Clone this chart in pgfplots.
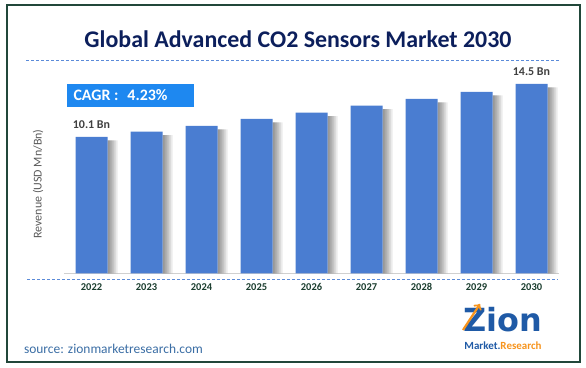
\documentclass[border=0pt]{standalone}
\usepackage{pgfplots}
\usepackage{pgfplotstable}
\pgfplotsset{compat=1.18}
\usepackage{fontspec}
\setmainfont{Carlito}
\newfontfamily\logofont{DejaVu Sans}
\definecolor{bordercol}{HTML}{21473A}
\definecolor{titlecol}{HTML}{0C1F5C}
\definecolor{barcol}{HTML}{4A7DD1}
\definecolor{cagrcol}{HTML}{1E88F0}
\definecolor{yearcol}{HTML}{1A3D2E}
\definecolor{ylabcol}{HTML}{595959}
\definecolor{valcol}{HTML}{404040}
\definecolor{srccol}{HTML}{3B6EA5}
\definecolor{dashcol}{HTML}{5B8BD9}
\definecolor{axisgray}{HTML}{D0D0D0}
\definecolor{zionblue}{HTML}{1F5AA6}
\definecolor{zionorange}{HTML}{F7941D}

\pgfplotstableread{
x v lab
0 10.10 {10.1 Bn}
1 10.49 {}
2 10.92 {}
3 11.43 {}
4 11.90 {}
5 12.42 {}
6 12.92 {}
7 13.43 {}
8 14.03 {14.5 Bn}
}\datatable

\begin{document}
\begin{tikzpicture}
\begin{scope}[x=1bp,y=1bp]
\useasboundingbox (0,0) rectangle (586,367);
\fill[white] (0,0) rectangle (586,367);
\draw[bordercol, line width=1.5bp] (7,5) rectangle (580,362);
\node[font=\bfseries\fontsize{24}{28}\selectfont, text=titlecol] at (298,327.5) {Global Advanced CO2 Sensors Market 2030};
\draw[dashcol, line width=0.8bp, dash pattern=on 3bp off 2bp] (26,307) -- (560,307);
\draw[dashcol, line width=0.8bp, dash pattern=on 3bp off 2bp] (27,88) -- (558,88);
\fill[cagrcol] (66.7,260.3) rectangle (194,283);
\node[anchor=west, text=white, font=\bfseries\fontsize{16}{18}\selectfont] at (70,271.7) {CAGR :\,\, 4.23\%};
\node[rotate=90, text=ylabcol, font=\fontsize{12}{14}\selectfont] at (38,183) {Revenue (USD Mn/Bn)};
\node[anchor=west, text=srccol, font=\fontsize{13.5}{16}\selectfont] at (20.5,18) {source: zionmarketresearch.com};
\node[anchor=base, inner sep=0pt, font=\logofont\bfseries\fontsize{32}{34}\selectfont, text=zionblue] at (503,36) {Zion};
\draw[zionorange, line width=2.2bp, ->] (463,37) -- (480,63);
\node[anchor=base, inner sep=0pt, font=\bfseries\fontsize{11}{13}\selectfont] at (503,18) {\textcolor{zionblue}{Market.}\textcolor{zionorange}{Research}};
\end{scope}
\begin{axis}[
  at={(64bp,93.7bp)}, anchor=south west,
  scale only axis, width=495bp, height=202.5bp,
  xmin=-0.5, xmax=8.5, ymin=0, ymax=15,
  axis y line=none, axis x line=bottom,
  x axis line style={-, draw=axisgray, line width=1bp},
  xtick={0,...,8}, xticklabels={2022,2023,2024,2025,2026,2027,2028,2029,2030},
  major tick length=0pt,
  xticklabel style={font=\bfseries\fontsize{10.5}{12}\selectfont, text=yearcol, yshift=-7bp, text height=7bp, text depth=0pt},
  ytick=\empty,
  ybar, bar width=32bp,
  clip=false,
]
\addplot[ybar, bar shift=17bp, bar width=2bp, draw=none, fill=black, fill opacity=0.1, forget plot]
  table[x=x, y expr=\thisrow{v}-0.25] {\datatable};
\addplot[ybar, bar shift=18bp, bar width=4bp, draw=none, fill=black, fill opacity=0.1, forget plot]
  table[x=x, y expr=\thisrow{v}-0.25] {\datatable};
\addplot[ybar, bar shift=19bp, bar width=6bp, draw=none, fill=black, fill opacity=0.1, forget plot]
  table[x=x, y expr=\thisrow{v}-0.25] {\datatable};
\addplot[ybar, bar shift=20bp, bar width=8bp, draw=none, fill=black, fill opacity=0.1, forget plot]
  table[x=x, y expr=\thisrow{v}-0.25] {\datatable};
\addplot[ybar, bar shift=21bp, bar width=10bp, draw=none, fill=black, fill opacity=0.08, forget plot]
  table[x=x, y expr=\thisrow{v}-0.25] {\datatable};
\addplot[ybar, bar shift=0bp, fill=barcol, draw=none,
  nodes near coords, point meta=explicit symbolic,
  nodes near coords style={font=\bfseries\fontsize{12}{14}\selectfont, text=valcol, yshift=5bp}]
  table[x=x, y=v, meta=lab] {\datatable};
\end{axis}
\end{tikzpicture}
\end{document}
